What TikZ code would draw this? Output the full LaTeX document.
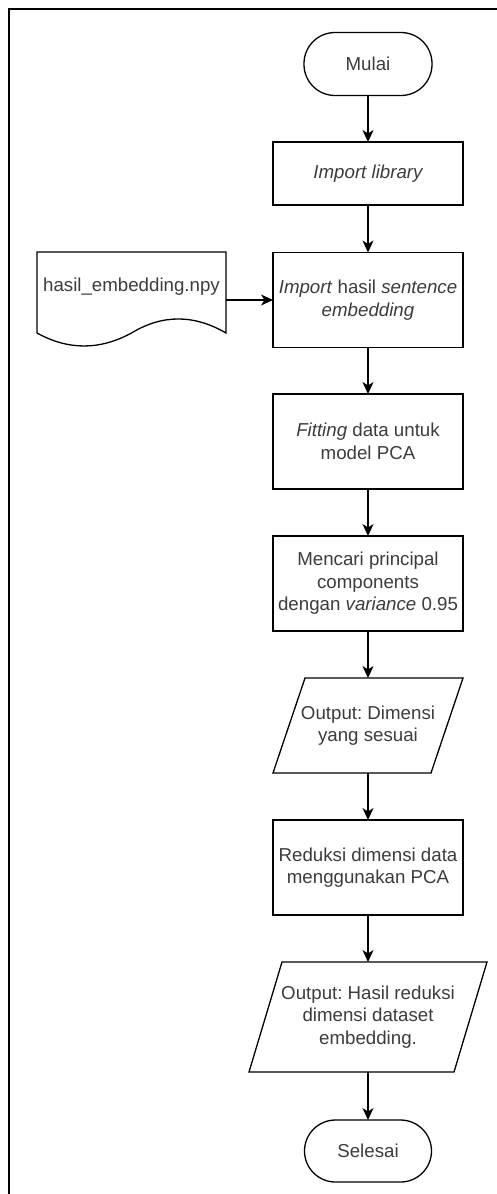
\documentclass[tikz,border=0pt]{standalone}
\usepackage{fontspec}
\setmainfont{Liberation Sans}
\usetikzlibrary{arrows.meta}
\definecolor{txt}{RGB}{60,60,60}
\frenchspacing
\begin{document}
\begin{tikzpicture}[x=1pt,y=-1pt,
  every node/.style={inner sep=0pt, outer sep=0pt, text=txt,
    font=\fontsize{18.7}{22.4}\selectfont, align=center},
  shp/.style={line width=1.3pt, draw=black},
  proc/.style={shp, rectangle, minimum width=190pt, minimum height=95pt},
  term/.style={shp, rectangle, rounded corners=31pt, minimum width=128pt, minimum height=63pt},
  ghost/.style={draw=none},
  conn/.style={line width=1.3pt, draw=black, -{Stealth[length=12pt,width=11pt,inset=3.5pt]}}
]
\useasboundingbox[fill=white] (0,0) rectangle (497,1194);
% frame
\draw[line width=1.6pt] (9,1194) -- (9,9) -- (497,9);

\node[term] (t1) at (368,64) {Mulai};
\node[proc, minimum height=63pt] (b1) at (368,173.5) {\itshape Import library};
\node[proc] (b2) at (368,300) {\textit{Import} hasil \textit{sentence}\\\textit{embedding}};
\node[proc] (b3) at (368,441.5) {\textit{Fitting} data untuk\\model PCA};
\node[proc] (b4) at (368,583.5) {Mencari principal\\components\\dengan \textit{variance} 0.95};
\node[ghost, minimum width=158pt, minimum height=95pt] (p1) at (368,725.5) {Output: Dimensi\\yang sesuai};
\draw[shp] ([xshift=16pt]p1.north west) -- ([xshift=16pt]p1.north east)
  -- ([xshift=-16pt]p1.south east) -- ([xshift=-16pt]p1.south west) -- cycle;
\node[proc] (b5) at (368,867.5) {Reduksi dimensi data\\menggunakan PCA};
\node[ghost, minimum width=205pt, minimum height=110pt] (p2) at (368,1017) {Output: Hasil reduksi\\dimensi dataset\\embedding.};
\draw[shp] ([xshift=16.5pt]p2.north west) -- ([xshift=16.5pt]p2.north east)
  -- ([xshift=-16.5pt]p2.south east) -- ([xshift=-16.5pt]p2.south west) -- cycle;
\node[term, minimum width=127pt, minimum height=62pt] (t2) at (368,1151) {Selesai};

% document shape
\node[ghost, minimum width=189pt, minimum height=81pt] (d) at (131.5,292.5) {};
\draw[shp] (37,252) -- (226,252) -- (226,333)
  .. controls (194,314.3) and (162.3,314.3) .. (131.5,333)
  .. controls (99.7,350.3) and (68.3,350.3) .. (37,333) -- cycle;
\node (dtext) at (131.5,287) {hasil\_embedding.npy};

% connectors
\draw[conn] (t1) -- (b1);
\draw[conn] (b1) -- (b2);
\draw[conn] (b2) -- (b3);
\draw[conn] (b3) -- (b4);
\draw[conn] (b4) -- (p1);
\draw[conn] (p1) -- (b5);
\draw[conn] (b5) -- (p2);
\draw[conn] (p2) -- (t2);
\draw[conn] (d.east |- b2.west) -- (b2.west);
\end{tikzpicture}
\end{document}
